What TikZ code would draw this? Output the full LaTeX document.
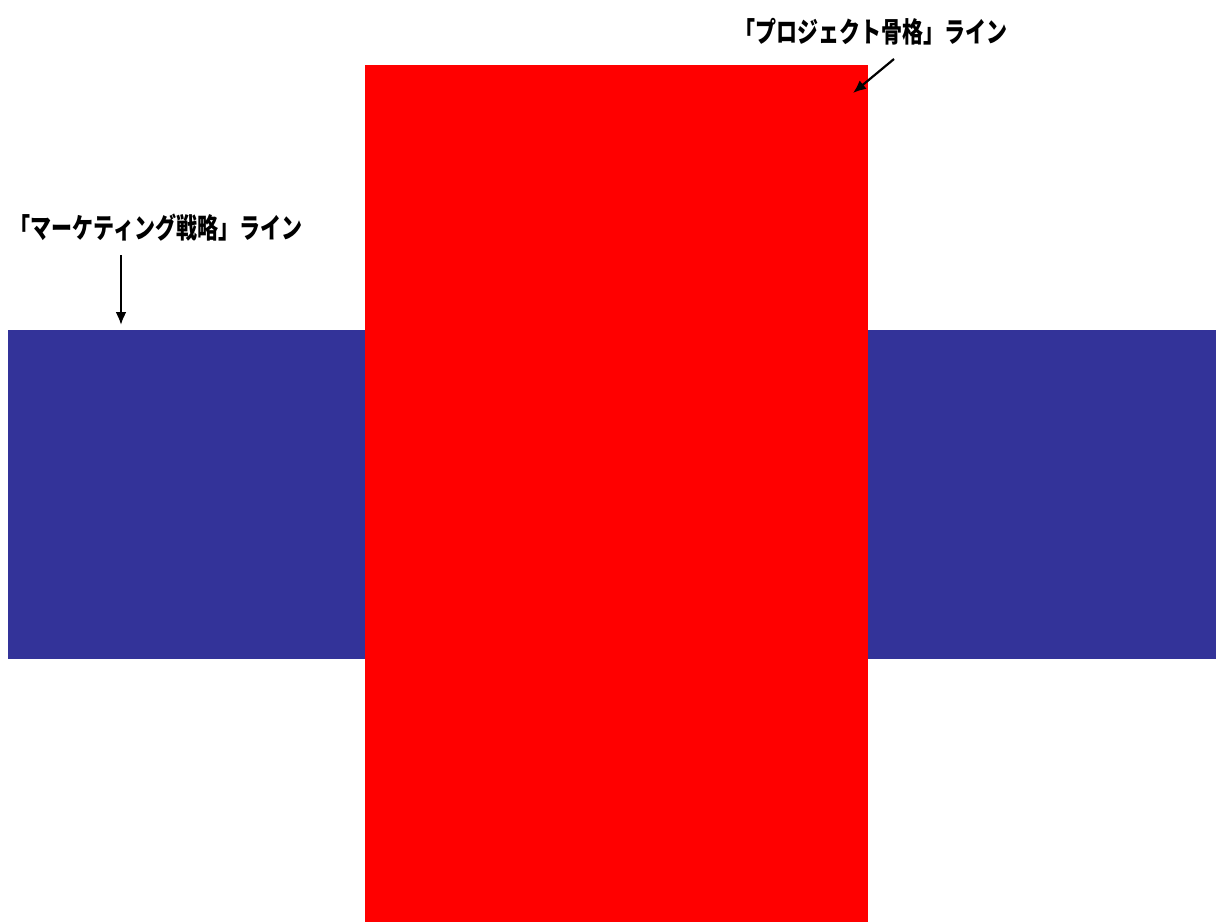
\documentclass[tikz,border=0pt]{standalone}
\usepackage{fontspec}
\newfontfamily\jp{Noto Sans CJK JP}
\usetikzlibrary{arrows.meta}
\definecolor{bandblue}{HTML}{333399}
\definecolor{skelred}{HTML}{FF0000}
\tikzset{
  lbl/.style={inner sep=0pt, font=\jp\bfseries\fontsize{28}{28}\selectfont},
  ptr/.style={line width=2.2pt, -{Latex[length=13pt,width=11pt]}}
}
\begin{document}
\begin{tikzpicture}[x=1pt,y=-1pt]
\useasboundingbox (0,0) rectangle (1216,922);
\fill[bandblue] (8,330) rectangle (1216,659);
\fill[skelred] (365,65) rectangle (868,922);
\node[lbl] (proj) at (871,32) {\scalebox{0.75}[1]{「プロジェクト骨格」ライン}};
\node[lbl] (mkt) at (156,228) {\scalebox{0.75}[1]{「マーケティング戦略」ライン}};
\coordinate (projtail) at (894,59);
\coordinate (projtip) at (853,93);
\coordinate (mkttail) at (121,255);
\coordinate (mkttip) at (121,325);
\draw[ptr] (projtail) -- (projtip);
\draw[ptr] (mkttail) -- (mkttip);
\end{tikzpicture}
\end{document}
